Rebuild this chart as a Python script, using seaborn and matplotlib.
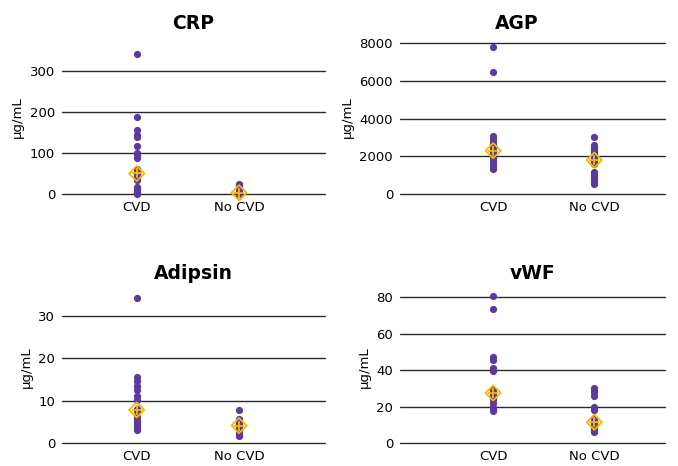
import numpy as np
import pandas as pd
import matplotlib
matplotlib.use("Agg")
import matplotlib.pyplot as plt
import seaborn as sns

# values (ug/mL)
groups = ["CVD", "No CVD"]

crp_cvd = [342, 188, 155, 145, 140, 118, 100, 95, 88, 60, 55, 50, 48, 45, 42, 38, 35, 18, 14, 10, 6, 3, 1]
crp_nocvd = [24, 21, 18, 14, 9, 5, 3, 2, 1.5, 1, 0.8, 0.5, 0.3]

agp_cvd = [7800, 6450, 3100, 2950, 2800, 2700, 2600, 2500, 2400, 2300, 2250, 2200,
           2100, 2000, 1900, 1750, 1600, 1450, 1300]
agp_nocvd = [3000, 2600, 2500, 2400, 2300, 2200, 2100, 2000, 1900, 1800, 1750, 1700,
             1600, 1150, 1000, 900, 800, 650, 550]

adipsin_cvd = [34.3, 15.6, 14.6, 13.6, 12.6, 11.2, 10.1, 8, 7.7, 6.2, 5.5, 5, 4.5, 4, 3.4, 3]
adipsin_nocvd = [7.8, 5.8, 5.5, 5, 4.6, 4.3, 4, 3.5, 3, 2.5, 2, 1.6]

vwf_cvd = [80.5, 73.5, 47, 45.5, 41, 39.5, 29, 28, 27, 26.5, 25, 24, 22, 20, 18.5, 17.5]
vwf_nocvd = [30, 29, 28, 26, 20, 18, 13, 11.5, 11, 10, 9, 7.5, 7, 6.5, 6]

panels = [
    ("CRP", crp_cvd, crp_nocvd, [0, 100, 200, 300], 375),
    ("AGP", agp_cvd, agp_nocvd, [0, 2000, 4000, 6000, 8000], 8160),
    ("Adipsin", adipsin_cvd, adipsin_nocvd, [0, 10, 20, 30], 36.1),
    ("vWF", vwf_cvd, vwf_nocvd, [0, 20, 40, 60, 80], 83.8),
]

sns.set_style("white")
plt.rcParams["font.family"] = ["DejaVu Sans"]

purple = "#5b3a9b"
gold = "#f5b800"

fig = plt.figure(figsize=(6.78, 4.66), dpi=100)
rects = [
    [0.0914, 0.5837, 0.388, 0.330],
    [0.590, 0.5837, 0.391, 0.330],
    [0.0914, 0.049, 0.388, 0.328],
    [0.590, 0.049, 0.391, 0.328],
]
xlims = [(-0.73, 1.84), (-0.92, 1.70), (-0.73, 1.84), (-0.92, 1.70)]
title_x = [0.5, 0.44, 0.5, 0.5]

for (name, cvd, nocvd, ticks, top), rect, xl, tx in zip(panels, rects, xlims, title_x):
    ax = fig.add_axes(rect)
    df = pd.DataFrame({
        "group": ["CVD"] * len(cvd) + ["No CVD"] * len(nocvd),
        "value": cvd + nocvd,
    })
    for t in ticks:
        ax.axhline(t, color="#2a2a2a", lw=1.0, zorder=0, clip_on=False)
    sns.stripplot(data=df, x="group", y="value", order=groups, jitter=False,
                  color=purple, size=5.2, linewidth=0, ax=ax, zorder=3, clip_on=False)
    med = df.groupby("group")["value"].median().reindex(groups)
    ax.scatter(range(len(groups)), med.values, marker="D", s=60, facecolors="none",
               edgecolors=gold, linewidths=1.3, zorder=5, clip_on=False)
    ax.scatter(range(len(groups)), med.values, marker="+", s=50, color=gold,
               linewidths=1.3, zorder=6, clip_on=False)
    ax.set_xlim(xl)
    ax.set_ylim(0, top)
    ax.set_yticks(ticks)
    ax.set_title(name, fontsize=13.5, fontweight="bold", color="black", pad=8, x=tx)
    ax.set_xlabel("")
    ax.set_ylabel("µg/mL", fontsize=9.5, color="black")
    ax.tick_params(axis="both", length=0, labelsize=9.5, pad=5, colors="black")
    for s in ax.spines.values():
        s.set_visible(False)

fig.savefig("out.png", dpi=100)
